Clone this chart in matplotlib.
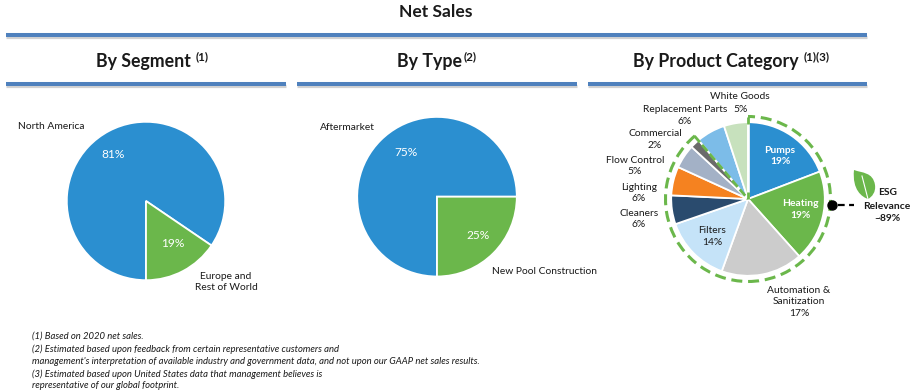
import matplotlib
matplotlib.use("Agg")
import matplotlib.pyplot as plt
from matplotlib.patches import Arc, PathPatch
from matplotlib.path import Path

plt.rcParams['font.family'] = ['Lato', 'DejaVu Sans']

W, H = 912, 392
BLUE = '#2b8fd0'
GREEN = '#6bb74b'

# drawn shares and printed labels
segment_names = ['North America', 'Europe and\nRest of World']
segment_values = [84.5, 15.5]
segment_labels = ['81%', '19%']
type_names = ['Aftermarket', 'New Pool Construction']
type_values = [75, 25]
type_labels = ['75%', '25%']
category_names = ['Pumps', 'Heating', 'Automation &\nSanitization', 'Filters', 'Cleaners',
                  'Lighting', 'Flow Control', 'Commercial', 'Replacement Parts', 'White Goods']
category_values = [19, 19, 17, 14, 6, 6, 5, 2, 6, 5]
category_colors = [BLUE, GREEN, '#cccccc', '#c5e3f8', '#2a4b6e', '#f58220',
                   '#a3b1c6', '#6b6b6b', '#7cbce8', '#c7e1bd']
footnotes = ['(1) Based on 2020 net sales.',
             '(2) Estimated based upon feedback from certain representative customers and',
             "management's interpretation of available industry and government data, and not upon our GAAP net sales results.",
             '(3) Estimated based upon United States data that management believes is',
             'representative of our global footprint.']
foot_y = [336, 349, 361, 374, 386]

fig = plt.figure(figsize=(W / 100, H / 100), dpi=100)
ax = fig.add_axes([0, 0, 1, 1])


def Y(y):
    return H - y


def T(x, y, s, size=7.35, color='#1a1a1a', ha='center', weight='normal', style='normal', va='center', ls=1.38):
    ax.text(x, Y(y), s, fontsize=size, color=color, ha=ha, va=va, fontweight=weight,
            fontstyle=style, linespacing=ls)


def rule(x0, x1, y, lw=2.9):
    ax.plot([x0, x1], [Y(y + 2), Y(y + 2)], color='#d2d2d2', lw=lw * 0.8, solid_capstyle='butt', zorder=1)
    ax.plot([x0, x1], [Y(y), Y(y)], color='#4f81bd', lw=lw, solid_capstyle='butt', zorder=2)


ax.pie(segment_values, colors=[BLUE, GREEN], center=(146, Y(201)), radius=79.2, startangle=270,
       counterclock=False, wedgeprops=dict(edgecolor='white', linewidth=1.3), frame=True)
ax.pie(type_values, colors=[BLUE, GREEN], center=(437, Y(196.7)), radius=79.8, startangle=270,
       counterclock=False, wedgeprops=dict(edgecolor='white', linewidth=1.3), frame=True)
ax.pie(category_values, colors=category_colors, center=(748, Y(199)), radius=76.8, startangle=90,
       counterclock=False, wedgeprops=dict(edgecolor='white', linewidth=1.3), frame=True)

ax.set_xlim(0, W)
ax.set_ylim(0, H)
ax.set_aspect('auto')
ax.axis('off')

# ESG outline: arc, diagonal and vertical radii
DASH = (0, (3.6, 1.9))
ax.add_patch(Arc((748, Y(199)), 165, 165, theta1=130, theta2=450, edgecolor=GREEN, lw=2.2,
                 linestyle=DASH, zorder=5))
ax.plot([694.5, 748], [Y(136), Y(199)], color=GREEN, lw=2.0, ls=(0, (3.0, 1.2)), zorder=5)
ax.plot([748, 748], [Y(199), Y(117)], color='white', lw=1.9, zorder=4)
ax.plot([748, 748], [Y(117), Y(124)], color=GREEN, lw=2.0, solid_capstyle='butt', zorder=5)
ax.plot([748, 748], [Y(199), Y(192)], color=GREEN, lw=2.0, solid_capstyle='butt', zorder=5)

rule(6, 867, 35)
rule(6, 286, 84)
rule(297, 577, 84)
rule(588, 867, 84)

T(436, 12, 'Net Sales', size=12.6, weight='bold')
T(143, 61, 'By Segment', size=12.8, weight='bold')
T(202, 57, '(1)', size=8.4, weight='bold')
T(430, 61, 'By Type', size=12.8, weight='bold')
T(470, 57, '(2)', size=8.4, weight='bold')
T(716, 61, 'By Product Category', size=12.8, weight='bold')
T(817, 57, '(1)(3)', size=8.4, weight='bold')

T(18, 126, segment_names[0], ha='left')
T(226, 282, segment_names[1], ls=1.35)
T(113, 154, segment_labels[0], size=8.6, color='white')
T(173, 243, segment_labels[1], size=8.6, color='white')

T(320, 127, type_names[0], ha='left')
T(492, 272, type_names[1], ha='left')
T(406, 152, type_labels[0], size=8.6, color='white')
T(478, 235, type_labels[1], size=8.6, color='white')

T(780, 156, 'Pumps\n19%', color='white', weight='bold')
T(800, 209.5, 'Heating\n19%', color='white', weight='bold')
T(712, 236.5, 'Filters\n14%')
T(799, 302, category_names[2] + '\n17%')
T(639, 219, category_names[4] + '\n6%')
T(639, 193, category_names[5] + '\n6%')
T(635, 166, category_names[6] + '\n5%')
T(655, 139.5, category_names[7] + '\n2%')
T(685, 115.5, category_names[8] + '\n6%')
T(740, 96, category_names[9])
T(733, 109, '5%', ha='left')

T(888, 192, 'ESG', weight='bold', size=7.4)
T(887, 206, 'Relevance', weight='bold', size=7.4)
T(888, 218, '~89%', weight='bold', size=7.4)

# connector and leaf
ax.plot([832], [Y(205)], marker='o', ms=6.5, color='black', zorder=7)
ax.plot([838, 854], [Y(205), Y(205)], color='black', lw=1.6, ls=(0, (3, 2)), zorder=7)
verts = [(854, 170), (862, 173), (873, 172), (875, 185),
         (876, 192), (872, 197), (868, 199),
         (862, 197), (852, 190), (854, 170)]
codes = [Path.MOVETO] + [Path.CURVE4] * 9
leaf = Path([(x, Y(y)) for x, y in verts], codes)
ax.add_patch(PathPatch(leaf, facecolor=GREEN, edgecolor='none', zorder=7))
ax.plot([862, 868.5], [Y(176), Y(201)], color='white', lw=0.8, zorder=8)

for y, s in zip(foot_y, footnotes):
    T(32, y, s, size=6.85, ha='left', style='italic')

fig.savefig('out.png', dpi=100)
